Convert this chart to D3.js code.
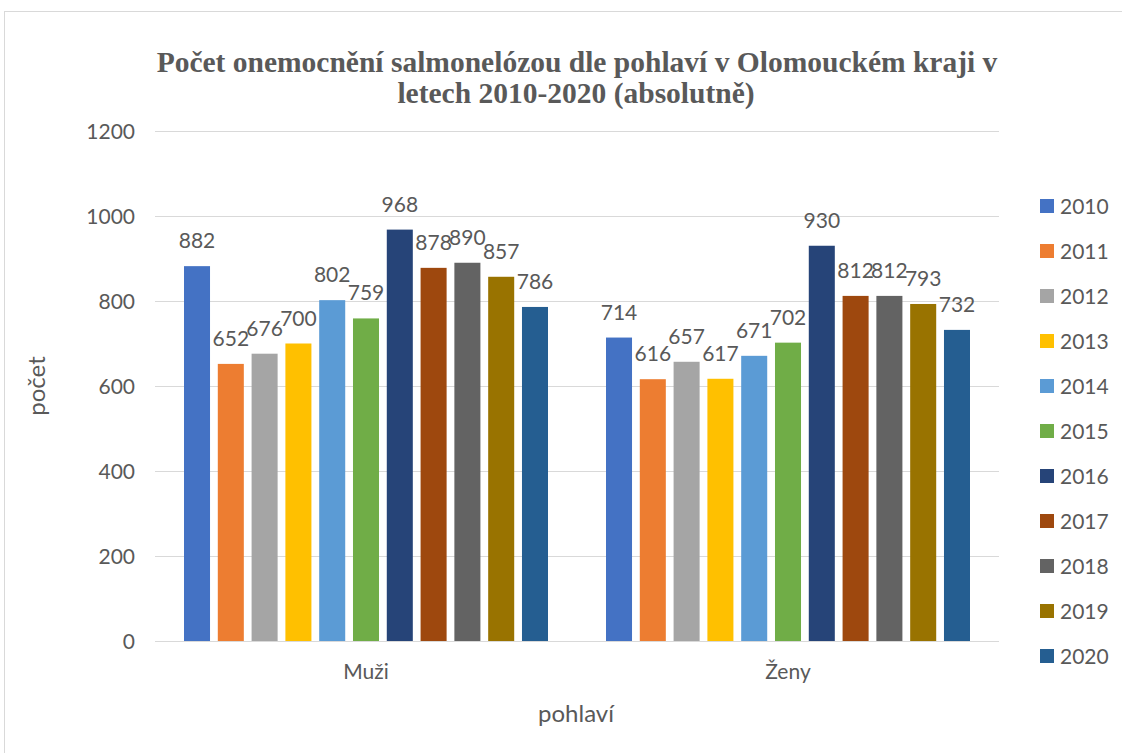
<!DOCTYPE html>
<html>
<head>
<meta charset="utf-8">
<script src="https://cdn.jsdelivr.net/npm/d3@7"></script>
<style>
  body { margin: 0; background: #fff; }
  svg text { font-family: Lato, "Open Sans", sans-serif; fill: #595959; }
</style>
</head>
<body>
<svg id="chart" width="1122" height="753"></svg>
<script>
// data
const categories = ["Muži", "Ženy"];
const years = ["2010", "2011", "2012", "2013", "2014", "2015", "2016", "2017", "2018", "2019", "2020"];
const muzi = [882, 652, 676, 700, 802, 759, 968, 878, 890, 857, 786];
const zeny = [714, 616, 657, 617, 671, 702, 930, 812, 812, 793, 732];
const colors = ["#4472C4", "#ED7D31", "#A5A5A5", "#FFC000", "#5B9BD5", "#70AD47",
                "#264478", "#9E480E", "#636363", "#997300", "#255E91"];
const yTicks = [0, 200, 400, 600, 800, 1000, 1200];

const seriesByCat = { "Muži": muzi, "Ženy": zeny };

const svg = d3.select("#chart");

// chart frame
svg.append("rect")
  .attr("x", 4.5).attr("y", 11.5)
  .attr("width", 1130).attr("height", 760)
  .attr("fill", "none").attr("stroke", "#d9d9d9");

const plotLeft = 155, plotRight = 999, plotTop = 131, plotBottom = 641;

const x0 = d3.scaleBand().domain(categories).range([plotLeft, plotRight]);
const x1 = d3.scaleBand().domain(years)
  .range([29, x0.bandwidth() - 29])
  .paddingInner(0.23).paddingOuter(0);
const y = d3.scaleLinear().domain([0, 1200]).range([plotBottom, plotTop]);

// gridlines
svg.append("g").selectAll("line")
  .data(yTicks).enter()
  .append("line")
    .attr("x1", plotLeft).attr("x2", plotRight)
    .attr("y1", d => Math.round(y(d)) + 0.5)
    .attr("y2", d => Math.round(y(d)) + 0.5)
    .attr("stroke", "#d9d9d9").attr("stroke-width", 1);

// y tick labels
svg.append("g").selectAll("text")
  .data(yTicks).enter()
  .append("text")
    .attr("x", 135)
    .attr("y", d => y(d))
    .attr("dy", "0.36em")
    .attr("text-anchor", "end")
    .attr("font-size", 21)
    .text(d => d);

// bars + labels
const groups = svg.append("g").selectAll("g")
  .data(categories).enter()
  .append("g")
    .attr("transform", d => "translate(" + x0(d) + ",0)");

const cells = groups.selectAll("g")
  .data(c => years.map((yr, i) => ({ year: yr, value: seriesByCat[c][i], color: colors[i] })))
  .enter();

cells.append("rect")
  .attr("x", d => x1(d.year))
  .attr("y", d => y(d.value))
  .attr("width", x1.bandwidth())
  .attr("height", d => plotBottom - y(d.value))
  .attr("fill", d => d.color);

cells.append("text")
  .attr("x", d => x1(d.year) + x1.bandwidth() / 2)
  .attr("y", d => y(d.value) - 18)
  .attr("text-anchor", "middle")
  .attr("font-size", 21)
  .text(d => d.value);

// category labels
svg.append("g").selectAll("text")
  .data(categories).enter()
  .append("text")
    .attr("x", d => x0(d) + x0.bandwidth() / 2)
    .attr("y", 679)
    .attr("text-anchor", "middle")
    .attr("font-size", 21)
    .text(d => d);

// axis titles
svg.append("text")
  .attr("x", 576).attr("y", 722)
  .attr("text-anchor", "middle")
  .attr("font-size", 24)
  .text("pohlaví");

svg.append("text")
  .attr("transform", "translate(45," + ((plotTop + plotBottom) / 2) + ") rotate(-90)")
  .attr("text-anchor", "middle")
  .attr("font-size", 24)
  .text("počet");

// title
const title = svg.append("text")
  .attr("text-anchor", "middle")
  .attr("font-size", 29.5)
  .attr("font-weight", "bold")
  .style("font-family", "'Liberation Serif', 'Times New Roman', serif");
title.append("tspan").attr("x", 577).attr("y", 72)
  .text("Počet onemocnění salmonelózou dle pohlaví v Olomouckém kraji v");
title.append("tspan").attr("x", 576).attr("y", 103)
  .text("letech 2010-2020 (absolutně)");

// legend
const legend = svg.append("g").selectAll("g")
  .data(years).enter()
  .append("g")
    .attr("transform", (d, i) => "translate(1040," + (206 + i * 45) + ")");

legend.append("rect")
  .attr("x", 0).attr("y", -7)
  .attr("width", 14).attr("height", 14)
  .attr("fill", (d, i) => colors[i]);

legend.append("text")
  .attr("x", 20).attr("y", 0)
  .attr("dy", "0.36em")
  .attr("font-size", 21)
  .text(d => d);
</script>
</body>
</html>
